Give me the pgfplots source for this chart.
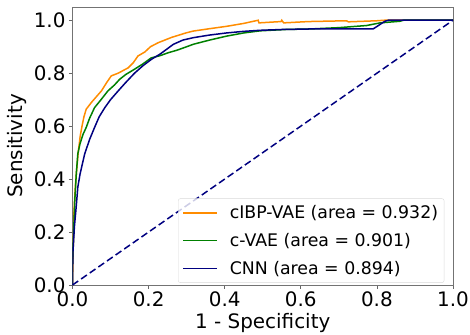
\documentclass[border=0pt]{standalone}
\usepackage{fontspec}
\setmainfont{DejaVu Sans}
\usepackage{pgfplots}
\pgfplotsset{compat=1.18}
\definecolor{mplorange}{RGB}{255,140,0}
\definecolor{mplgreen}{RGB}{0,128,0}
\definecolor{mplnavy}{RGB}{0,0,128}
\begin{document}
\begin{tikzpicture}
\begin{axis}[
  name=ax,
  scale only axis,
  width=380.5bp, height=278bp,
  xmin=0, xmax=1, ymin=0, ymax=1.05,
  xtick={0,0.2,0.4,0.6,0.8,1.0},
  ytick={0,0.2,0.4,0.6,0.8,1.0},
  xtick pos=bottom, ytick pos=left,
  tick align=outside,
  major tick length=3.5bp,
  tick style={black!60, line width=0.8bp},
  axis line style={black!55, line width=0.8bp},
  /pgf/number format/assume math mode=true,
  xticklabel style={/pgf/number format/fixed, /pgf/number format/fixed zerofill, /pgf/number format/precision=1, font=\fontsize{20}{24}\selectfont},
  yticklabel style={/pgf/number format/fixed, /pgf/number format/fixed zerofill, /pgf/number format/precision=1, font=\fontsize{20}{24}\selectfont},
  xlabel={1 - Specificity},
  ylabel={Sensitivity},
  label style={font=\fontsize{20}{24}\selectfont},
  xlabel style={at={(axis description cs:0.5,-0.137)}, anchor=center},
  ylabel style={at={(axis description cs:-0.146,0.5)}, anchor=center},
  legend cell align=left,
  legend style={at={(0.977,0.008)}, anchor=south east, draw=black!15, rounded corners=2bp, fill=white, fill opacity=0.8, text opacity=1, font=\fontsize{17.4}{20}\selectfont, row sep=9bp, inner xsep=4bp, inner ysep=5bp},
  legend image code/.code={\draw[#1] (0bp,0bp) -- (34bp,0bp); \path (44bp,0bp);},
]
\addplot[mplorange, line width=1.5bp] coordinates {
(0,0)(0.002,0.15)(0.004,0.28)(0.007,0.36)(0.01,0.42)(0.015,0.50)(0.02,0.56)(0.025,0.60)(0.03,0.635)(0.036,0.664)(0.05,0.69)(0.065,0.715)(0.076,0.733)(0.09,0.765)(0.102,0.79)(0.12,0.80)(0.146,0.82)(0.16,0.84)(0.172,0.865)(0.19,0.88)(0.205,0.90)(0.225,0.915)(0.26,0.935)(0.298,0.952)(0.317,0.959)(0.36,0.968)(0.405,0.977)(0.45,0.988)(0.488,1.0)(0.49,0.99)(0.548,0.995)(0.55,1.0)(0.555,0.99)(0.62,0.995)(0.72,0.998)(0.725,0.994)(0.8,0.998)(0.82,1.0)(1,1)};
\addlegendentry{cIBP-VAE (area = 0.932)}
\addplot[mplgreen, line width=1.5bp] coordinates {
(0,0)(0,0.08)(0.003,0.2)(0.006,0.32)(0.01,0.42)(0.014,0.496)(0.02,0.535)(0.028,0.57)(0.036,0.595)(0.045,0.63)(0.058,0.67)(0.075,0.70)(0.093,0.733)(0.11,0.755)(0.124,0.777)(0.14,0.795)(0.163,0.815)(0.185,0.835)(0.207,0.858)(0.23,0.866)(0.251,0.877)(0.275,0.887)(0.304,0.902)(0.317,0.909)(0.36,0.925)(0.405,0.94)(0.45,0.952)(0.493,0.96)(0.56,0.965)(0.624,0.967)(0.7,0.972)(0.773,0.98)(0.808,0.99)(0.86,0.996)(0.87,1.0)(1,1)};
\addlegendentry{c-VAE (area = 0.901)}
\addplot[mplnavy, line width=1.5bp] coordinates {
(0,0)(0.001,0.12)(0.005,0.22)(0.01,0.3)(0.014,0.37)(0.02,0.42)(0.032,0.495)(0.045,0.55)(0.058,0.595)(0.07,0.635)(0.085,0.67)(0.1,0.70)(0.12,0.733)(0.14,0.765)(0.163,0.80)(0.185,0.828)(0.207,0.852)(0.23,0.872)(0.25,0.893)(0.265,0.909)(0.29,0.925)(0.317,0.934)(0.36,0.944)(0.405,0.952)(0.45,0.958)(0.493,0.962)(0.55,0.965)(0.624,0.967)(0.79,0.967)(0.821,0.996)(0.83,1.0)(1,1)};
\addlegendentry{CNN (area = 0.894)}
\addplot[mplnavy, line width=1.5bp, dash pattern=on 7bp off 3.5bp, forget plot] coordinates {(0,0)(1,1)};
\end{axis}
\pgfresetboundingbox
\path[use as bounding box] ([shift={(-72.5bp,-50bp)}]ax.south west) rectangle ([shift={(17bp,7bp)}]ax.north east);
\end{tikzpicture}
\end{document}
